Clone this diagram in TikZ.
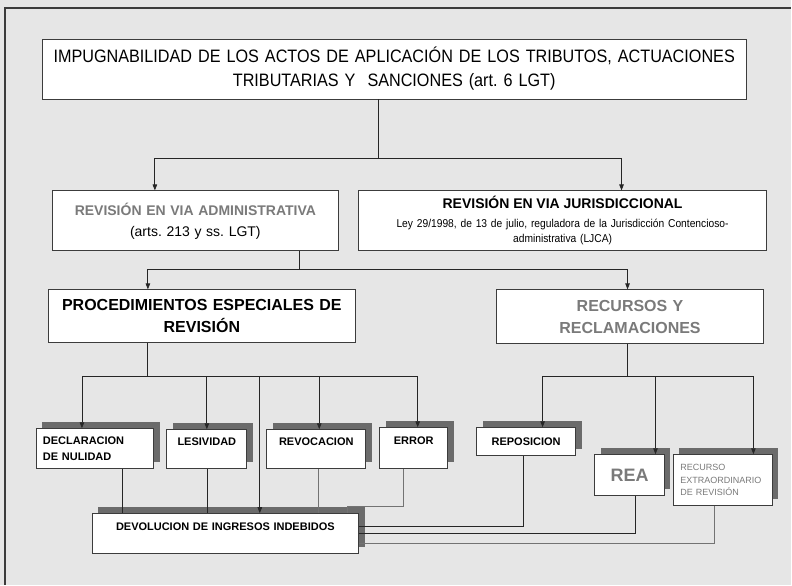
\documentclass[tikz,border=0pt]{standalone}
\usepackage{fontspec}
\setmainfont{Liberation Sans}
\newfontfamily\narrowfont[FakeStretch=0.9]{Liberation Sans}
\usetikzlibrary{arrows.meta, shadows}
\frenchspacing

\definecolor{pagegray}{HTML}{E6E6E6}
\definecolor{shadowgray}{HTML}{6B6B6B}
\definecolor{framegray}{HTML}{3C3C3C}
\definecolor{textgray}{HTML}{7A7A7A}

\begin{document}
\begin{tikzpicture}[x=1pt, y=-1pt,
    box/.style={draw=framegray, fill=white, line width=0.8pt, inner xsep=0pt, inner ysep=0pt, align=center},
    shbox/.style={box, drop shadow={shadow xshift=6pt, shadow yshift=7pt, fill=shadowgray, opacity=1}},
    link/.style={line width=0.8pt, black!85},
    glink/.style={line width=0.8pt, black!55},
    arr/.style={link, -{Triangle[length=6pt, width=4.5pt]}}]
    % Page and frame
    \fill[pagegray] (0,0) rectangle (792,585);
    \draw[framegray, line width=1.2pt] (5,585) -- (5,8) -- (792,8);

    % Upper levels
    \node[box, text width=705pt, minimum height=60pt, font=\narrowfont\fontsize{18}{24}\selectfont] (impug) at (394.5,69)
        {IMPUGNABILIDAD DE LOS ACTOS DE APLICACIÓN DE LOS TRIBUTOS, ACTUACIONES\\TRIBUTARIAS Y~~SANCIONES (art. 6 LGT)};
    \node[box, text width=287pt, minimum height=60pt, font=\fontsize{14}{21}\selectfont] (admin) at (195.5,221)
        {\textcolor{textgray}{\bfseries REVISIÓN EN VIA ADMINISTRATIVA}\\(arts. 213 y ss. LGT)\par\vspace{6pt}};
    \node[box, text width=408pt, minimum height=60pt, font=\narrowfont\fontsize{11.4}{15}\selectfont] (juris) at (563,221)
        {{\normalfont\bfseries\fontsize{14}{17}\selectfont REVISIÓN EN VIA JURISDICCIONAL}\\[4pt]
         Ley 29/1998, de 13 de julio, reguladora de la Jurisdicción Contencioso-\\administrativa (LJCA)\par\vspace{8pt}};
    \node[box, text width=308pt, minimum height=53pt, font=\bfseries\fontsize{16}{22}\selectfont] (especiales) at (202,316.5)
        {PROCEDIMIENTOS ESPECIALES DE\\REVISIÓN};
    \node[box, text width=267pt, minimum height=54pt, text=textgray, font=\bfseries\fontsize{16}{22}\selectfont] (recursos) at (630.5,317)
        {RECURSOS Y\\RECLAMACIONES};

    % Special procedures
    \node[shbox, text width=104pt, inner xsep=7pt, align=left, minimum height=40pt, font=\bfseries\fontsize{11}{16}\selectfont] (nulidad) at (95,449)
        {DECLARACION\\DE NULIDAD};
    \node[shbox, text width=80pt, minimum height=39pt, font=\bfseries\fontsize{11}{16}\selectfont] (lesividad) at (207,449.5) {LESIVIDAD\\~};
    \node[shbox, text width=99pt, minimum height=39pt, font=\bfseries\fontsize{11}{16}\selectfont] (revocacion) at (316.5,449.5) {REVOCACION\\~};
    \node[shbox, text width=68pt, minimum height=41pt, font=\bfseries\fontsize{11}{16}\selectfont] (error) at (414,448.5) {ERROR\\~};
    \node[shbox, text width=267pt, minimum height=40pt, font=\bfseries\fontsize{11}{14}\selectfont] (devol) at (225.5,534)
        {DEVOLUCION DE INGRESOS INDEBIDOS\\~};

    % Appeals
    \node[shbox, text width=99pt, minimum height=28pt, font=\bfseries\fontsize{11}{14}\selectfont] (reposicion) at (526.5,442) {REPOSICION};
    \node[shbox, text width=70pt, minimum height=41pt, text=textgray, font=\bfseries\fontsize{18}{20}\selectfont] (rea) at (630,475.5) {REA};
    \node[shbox, text width=85pt, inner xsep=7pt, align=left, minimum height=51pt, text=textgray, font=\fontsize{9}{12.5}\selectfont] (extraord) at (723.5,480.5)
        {RECURSO\\EXTRAORDINARIO\\DE REVISIÓN};

    % Junctions
    \coordinate (j1) at (379,159);
    \coordinate (j2) at (300,270);
    \coordinate (j3) at (148,377);
    \coordinate (j4) at (628,377);
    \coordinate (e1) at (348,507);

    % Tree connectors
    \draw[link] (impug.south -| j1) -- (j1);
    \draw[arr] (j1) -| ([xshift=-40.5pt]admin.north);
    \draw[arr] (j1) -| ([xshift=59pt]juris.north);
    \draw[link] (admin.south -| j2) -- (j2);
    \draw[arr] (j2) -| ([xshift=-54pt]especiales.north);
    \draw[arr] (j2) -| ([xshift=-2.5pt]recursos.north);
    \draw[link] (especiales.south -| j3) -- (j3);
    \draw[arr] (j3) -| ([xshift=-13pt]nulidad.north);
    \draw[arr] (j3) -| (lesividad.north);
    \draw[arr] (j3) -| ([xshift=3pt]revocacion.north);
    \draw[arr] (j3) -| ([xshift=4pt]error.north);
    \draw[arr] (j3) -| ([xshift=34.5pt]devol.north);
    \draw[link] (recursos.south -| j4) -- (j4);
    \draw[arr] (j4) -| ([xshift=16.5pt]reposicion.north);
    \draw[arr] (j4) -| ([xshift=26pt]rea.north);
    \draw[arr] (j4) -| ([xshift=30.5pt]extraord.north);

    % Into devolucion
    \draw[link] ([xshift=27pt]nulidad.south) -- ([xshift=27pt]nulidad.south |- devol.north);
    \draw[link] ([xshift=1pt]lesividad.south) -- ([xshift=1pt]lesividad.south |- devol.north);
    \draw[glink] ([xshift=2.5pt]revocacion.south) -- ([xshift=2.5pt]revocacion.south |- devol.north);
    \draw[glink] ([xshift=-10pt]error.south) |- (e1) -- (e1 |- devol.north);
    \draw[link] ([xshift=-2.5pt]reposicion.south) |- ([yshift=7pt]devol.east);
    \draw[link] ([xshift=6pt]rea.south) |- (devol.east);
    \draw[glink] ([xshift=-8.5pt]extraord.south) |- ([yshift=-10pt]devol.east);
\end{tikzpicture}
\end{document}
